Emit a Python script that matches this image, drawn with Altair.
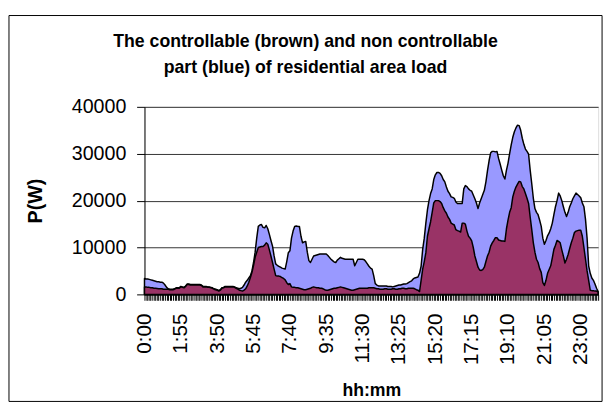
import altair as alt
import pandas as pd

# 5-minute categories
times = [f"{h}:{m:02d}" for h in range(24) for m in range(0, 60, 5)]
x_tick_labels = ["0:00", "1:55", "3:50", "5:45", "7:40", "9:35", "11:30",
                 "13:25", "15:20", "17:15", "19:10", "21:05", "23:00"]
y_ticks = [0, 5000, 10000, 15000, 20000, 25000, 30000, 35000, 40000]

# total load (blue area), W
total = [
    3400, 3300, 3300, 3200, 3100, 3000, 2900, 2800, 2700, 2700, 2600, 2600,
    2400, 2000, 1500, 1200, 1100, 1100, 1100, 1200, 1400, 1400, 1400, 1700,
    1600, 1500, 1800, 2200, 2200, 2100, 2100, 2100, 2100, 2100, 2100, 2100,
    2000, 1700, 1700, 1700, 1600, 1600, 1500, 1400, 1200, 1100, 1000, 800,
    1000, 1400, 1500, 1700, 1700, 1700, 1700, 1700, 1700, 1600, 1400, 1300,
    1200, 1300, 1500, 2000, 2600, 3000, 3500, 4000, 5000, 6800, 9000, 12000,
    14500, 14800, 14900, 14300, 14200, 14700, 14000, 12800, 11500, 10300, 8200, 6500,
    6200, 6000, 5800, 5600, 5500, 5400, 7000, 8900, 9300, 12000, 13500, 14500,
    14600, 14500, 14500, 12400, 11000, 11200, 11300, 9000, 7200, 6800, 7500, 8200,
    8300, 8400, 8500, 8600, 8600, 8600, 8600, 8600, 8300, 7900, 7500, 7200,
    6900, 6800, 7300, 7600, 7900, 7700, 7600, 7500, 7500, 7500, 7500, 7500,
    7500, 6100, 6800, 7500, 7500, 7500, 7500, 7400, 7000, 6500, 6000, 5600,
    5400, 4000, 2300, 2000, 1800, 1800, 1800, 1800, 1800, 1800, 1700, 1700,
    1700, 1600, 1700, 1800, 1900, 2000, 2000, 2100, 2200, 2200, 2300, 2500,
    2700, 2900, 3300, 3500, 3600, 3700, 4500, 6000, 9600, 12000, 15200, 18000,
    20000, 21500, 22500, 24500, 25500, 26000, 26000, 25800, 25300, 24500, 24000, 22900,
    22000, 21500, 20800, 20700, 20500, 19700, 19400, 19400, 19400, 19400, 22500, 23200,
    23000, 22500, 22200, 22000, 21200, 20400, 19500, 18300, 19500, 20400, 21300, 22200,
    24000, 26400, 28500, 30200, 30500, 30500, 30400, 30500, 29000, 27800, 26500, 25300,
    24600, 26500, 28000, 30000, 31900, 33500, 34700, 35500, 36100, 36000, 35000, 33300,
    32000, 31000, 30500, 29900, 26500, 23600, 20500, 18300, 17500, 17000, 15800, 14500,
    12000, 10700, 11500, 12500, 13100, 14000, 15200, 17000, 18700, 20000, 21600, 21000,
    20000, 18700, 17500, 16600, 17500, 18700, 19500, 20400, 21000, 21600, 21300, 21000,
    20600, 19500, 18700, 16000, 12000, 6100, 4500, 3500, 3000, 2200, 1300, 600,
]

# controllable part (brown area), W
controllable = [
    1600, 1600, 1500, 1500, 1400, 1400, 1300, 1300, 1250, 1200, 1200, 1200,
    1100, 1100, 1100, 1100, 1000, 1000, 1000, 1100, 1300, 1300, 1300, 1600,
    1500, 1400, 1700, 2100, 2100, 2000, 2000, 2000, 2000, 2000, 2000, 2000,
    1900, 1600, 1600, 1600, 1500, 1500, 1400, 1300, 1100, 1000, 900, 700,
    900, 1300, 1400, 1600, 1600, 1600, 1600, 1600, 1600, 1500, 1300, 1100,
    900, 800, 700, 900, 1200, 1800, 2600, 3600, 4700, 6200, 7900, 9000,
    10000, 10100, 10200, 10200, 10500, 11000, 10700, 9500, 8200, 6800, 5400, 4000,
    3900, 3900, 3800, 3600, 3400, 3100, 2500, 2100, 2300, 1600, 1500, 1500,
    1400, 1400, 1300, 1200, 1100, 1000, 1000, 1100, 1200, 1300, 1500, 1600,
    1500, 1400, 1400, 1300, 1300, 1200, 1000, 900, 900, 1000, 1100, 1200,
    1300, 1300, 1400, 1500, 1600, 1500, 1400, 1300, 1200, 1100, 1000, 900,
    900, 1000, 1100, 1200, 1300, 1300, 1300, 1300, 1300, 1300, 1400, 1400,
    1400, 1400, 1300, 1200, 1200, 1100, 1100, 1100, 1200, 1200, 1100, 1100,
    1100, 1200, 1200, 1100, 1100, 1200, 1200, 1300, 1300, 1200, 1200, 1300,
    1300, 1300, 1300, 1200, 1000, 900, 600, 3000, 5400, 7000, 8900, 12400,
    14000, 15500, 17500, 19500, 20000, 20000, 20000, 19800, 19400, 18500, 17800, 17300,
    16500, 16000, 15200, 15000, 14800, 13800, 13600, 13500, 13300, 15200, 15200, 15000,
    13500, 12400, 12000, 11400, 10000, 8200, 7000, 5800, 5200, 5100, 5300, 5800,
    7000, 8200, 9000, 10300, 11000, 11500, 12100, 12100, 11600, 11500, 11400, 11400,
    11300, 14000, 15900, 17500, 18500, 20800, 22000, 22900, 23500, 24100, 24000, 23000,
    22500, 21500, 20500, 19400, 16500, 13800, 11000, 9000, 7500, 6800, 5500, 4700,
    2500, 1900, 3000, 4500, 5300, 6100, 7800, 9600, 10500, 11500, 11300, 11000,
    9500, 8200, 6700, 7500, 8500, 9800, 11000, 12000, 13200, 13500, 13600, 13700,
    13700, 12400, 10000, 7500, 5000, 3000, 900, 800, 800, 700, 700, 500,
]

df = pd.DataFrame({"time": times, "total": total, "controllable": controllable})

FONT = "Liberation Sans"
W, H = 462, 191

label_list = ",".join(f"'{l}'" for l in x_tick_labels)
label_expr = f"indexof([{label_list}], datum.value) >= 0 ? datum.value : ''"

x_enc = alt.X(
    "time:O", sort=None,
    scale=alt.Scale(type="point", padding=0),
    axis=alt.Axis(
        values=times, labelExpr=label_expr, labelAngle=270,
        labelAlign="right", labelBaseline="middle", labelFontSize=21,
        labelPadding=13, labelOverlap=False, labelFont=FONT, labelColor="black",
        tickSize=6, tickColor="black", tickWidth=1,
        domainColor="black", grid=False,
        title="hh:mm", titleFont=FONT, titleFontSize=18, titleFontWeight="bold",
        titleColor="black", titleY=89,
    ),
)

y_axis = alt.Axis(
    values=y_ticks, format="d", labelFontSize=20, labelFont=FONT, labelColor="black",
    labelPadding=11, labelOverlap=False, tickSize=8, tickColor="black",
    domainColor="black", grid=True, gridColor="#333333", gridWidth=1,
    title="P(W)", titleFont=FONT, titleFontSize=20, titleFontWeight="bold",
    titleColor="black", titleAngle=270, titleX=-111, titleY=H / 2,
    titleBaseline="middle", titleAlign="center",
)

base = alt.Chart(df)

blue = base.mark_area(
    color="#9999ff", stroke="black", strokeWidth=1.5, strokeJoin="round"
).encode(
    x=x_enc,
    y=alt.Y("total:Q", scale=alt.Scale(domain=[0, 40000], nice=False), axis=y_axis),
)

brown = base.mark_area(
    color="#993366", stroke="black", strokeWidth=1.5, strokeJoin="round"
).encode(
    x=alt.X("time:O", sort=None),
    y=alt.Y("controllable:Q"),
)

frame = alt.Chart(alt.Data(values=[{"a": 1}])).mark_rect(
    filled=False, stroke="black", strokeWidth=1
).encode(
    x=alt.value(-138), x2=alt.value(466), y=alt.value(-93), y2=alt.value(300)
)

chart = alt.layer(frame, blue, brown).properties(
    width=W, height=H,
    title=alt.TitleParams(
        ["The controllable (brown) and non controllable",
         "part (blue) of residential area load"],
        font=FONT, fontSize=18, fontWeight="bold", color="black",
        anchor="middle", frame="group", dx=-67, offset=0, dy=63, lineHeight=26,
    ),
    autosize=alt.AutoSizeParams(type="none"),
    padding={"left": 139, "top": 97, "right": 8, "bottom": 110},
).configure_view(
    fill="#c0c0c0", stroke="#808080", strokeWidth=1
).configure(background="white")

chart.save("out.html", embed_options={"renderer": "svg", "actions": False})
